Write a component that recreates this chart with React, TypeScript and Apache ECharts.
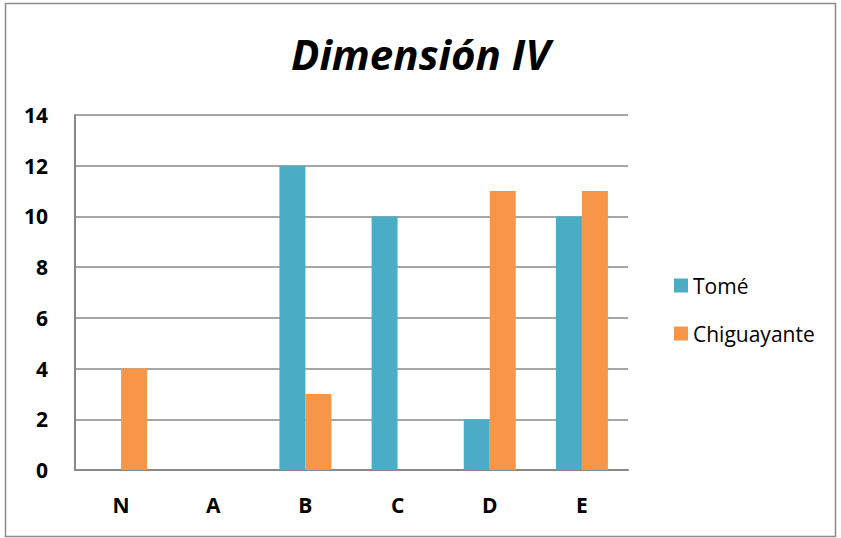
import React, { useEffect, useRef } from "react";
import * as echarts from "echarts";

const categories = ["N", "A", "B", "C", "D", "E"];
const tomeValues = [0, 0, 12, 10, 2, 10];
const chiguayanteValues = [4, 0, 3, 0, 11, 11];
const seriesNames = ["Tomé", "Chiguayante"];

const FONT = "'Open Sans', 'Liberation Sans', sans-serif";

export default function App() {
  const ref = useRef<HTMLDivElement>(null);

  useEffect(() => {
    document.body.style.margin = "0";
    if (!ref.current) return;
    const chart = echarts.init(ref.current, null, { renderer: "svg" });
    chart.setOption({
      animation: false,
      backgroundColor: "#ffffff",
      title: {
        text: "Dimensión IV",
        left: "center",
        top: 27,
        textStyle: {
          fontFamily: FONT,
          fontSize: 42,
          fontWeight: "bold",
          fontStyle: "italic",
          color: "#000000",
        },
      },
      graphic: [
        {
          type: "rect",
          shape: { x: 5.5, y: 3.5, width: 830, height: 533 },
          style: { fill: "none", stroke: "#8c8c8c", lineWidth: 1.5 },
          silent: true,
        },
      ],
      legend: {
        orient: "vertical",
        left: 669,
        top: 270,
        itemWidth: 14,
        itemHeight: 14,
        itemGap: 27,
        icon: "rect",
        textStyle: { fontFamily: FONT, fontSize: 21, color: "#000000" },
        data: seriesNames,
      },
      grid: { left: 75, right: 213, top: 115, bottom: 68 },
      xAxis: {
        type: "category",
        data: categories,
        axisLine: { show: true, lineStyle: { color: "#888888", width: 2 } },
        axisTick: { show: false },
        axisLabel: {
          margin: 24,
          fontFamily: FONT,
          fontSize: 21,
          fontWeight: "bold",
          color: "#000000",
        },
      },
      yAxis: {
        type: "value",
        min: 0,
        max: 14,
        interval: 2,
        axisLine: { show: true, lineStyle: { color: "#888888", width: 2 } },
        axisTick: { show: false },
        splitLine: { lineStyle: { color: "#888888", width: 1.5 } },
        axisLabel: {
          margin: 27,
          fontFamily: FONT,
          fontSize: 21,
          fontWeight: "bold",
          color: "#000000",
        },
      },
      series: [
        {
          name: seriesNames[0],
          type: "bar",
          data: tomeValues,
          itemStyle: { color: "#4BACC6" },
          barGap: "0%",
          barCategoryGap: "43.6%",
        },
        {
          name: seriesNames[1],
          type: "bar",
          data: chiguayanteValues,
          itemStyle: { color: "#F79646" },
          barGap: "0%",
          barCategoryGap: "43.6%",
        },
      ],
    });
    return () => chart.dispose();
  }, []);

  return <div ref={ref} style={{ width: 841, height: 538 }} />;
}
